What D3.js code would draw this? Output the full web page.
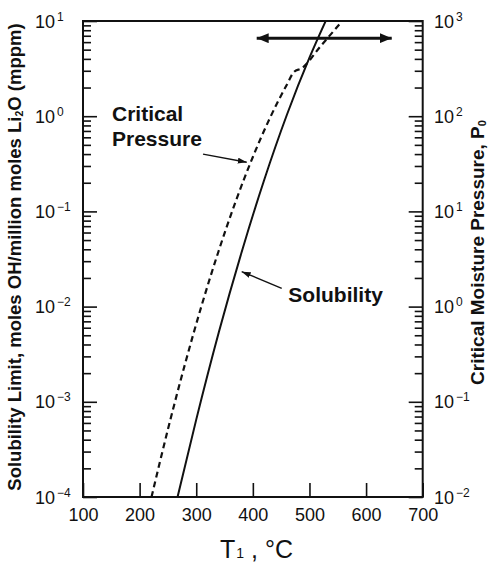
<!DOCTYPE html>
<html><head><meta charset="utf-8">
<script src="https://cdn.jsdelivr.net/npm/d3@7"></script>
<style>body{margin:0;background:#fff}svg{display:block}text{font-family:"Liberation Sans",Arial,Helvetica,sans-serif;fill:#111}</style>
</head><body><svg id="c" width="489" height="566"></svg>
<script>
// ---- data ----
const xTicks = [100, 200, 300, 400, 500, 600, 700];
const leftMajor = [1e-4, 1e-3, 1e-2, 1e-1, 1, 10];
const leftExp = ["−4", "−3", "−2", "−1", "0", "1"];
const rightMajor = [1e-2, 1e-1, 1, 10, 100, 1000];
const rightExp = ["−2", "−1", "0", "1", "2", "3"];
// Solubility limit (mppm) vs T1 (°C)
const solT = [267, 300, 340, 380, 420, 460, 500, 529];
const solV = [1e-4, 6.5e-4, 5.4e-3, 3.7e-2, 0.214, 1.03, 4.12, 10.1];
// Critical moisture pressure P0 vs T1 (°C)
const critT = [221, 250, 280, 310, 340, 370, 400, 430, 460, 473, 486, 520, 557];
const critV = [0.01, 0.0514, 0.247, 1.05, 3.91, 12.9, 37.3, 95.3, 214, 293, 318, 547, 984];

const svg = d3.select("#c");
const L = 83, R = 422.7, T = 21, B = 497;
const x = d3.scaleLinear().domain([100, 700]).range([L, R]);
const yL = d3.scaleLog().domain([1e-4, 10]).range([B, T]);
const yR = d3.scaleLog().domain([1e-2, 1e3]).range([B, T]);
const ink = "#111";

// defs
const defs = svg.append("defs");
defs.append("clipPath").attr("id", "clip").append("rect")
  .attr("x", L).attr("y", T).attr("width", R - L).attr("height", B - T);
defs.append("marker").attr("id", "big").attr("viewBox", "0 0 12 10")
  .attr("refX", 12).attr("refY", 5).attr("markerWidth", 12).attr("markerHeight", 10)
  .attr("markerUnits", "userSpaceOnUse").attr("orient", "auto-start-reverse")
  .append("path").attr("d", "M0,0L12,5L0,10Z").attr("fill", ink);
defs.append("marker").attr("id", "small").attr("viewBox", "0 0 9 6")
  .attr("refX", 9).attr("refY", 3).attr("markerWidth", 9).attr("markerHeight", 6)
  .attr("markerUnits", "userSpaceOnUse").attr("orient", "auto")
  .append("path").attr("d", "M0,0L9,3L0,6Z").attr("fill", ink);

// minor tick values
const minorL = [];
leftMajor.slice(0, -1).forEach(m => { for (let k = 2; k <= 9; k++) minorL.push(m * k); });
const minorR = [];
rightMajor.slice(0, -1).forEach(m => { for (let k = 2; k <= 9; k++) minorR.push(m * k); });

function styleAxis(g) {
  g.select(".domain").remove();
  g.selectAll(".tick line").attr("stroke", ink).attr("stroke-width", 1.6);
}
// bottom axis
const gx = svg.append("g").attr("transform", `translate(0,${B})`)
  .call(d3.axisBottom(x).tickValues(xTicks).tickSizeInner(-14).tickSizeOuter(0).tickPadding(11).tickFormat(d3.format("d")));
styleAxis(gx);
gx.selectAll(".tick text").attr("font-size", 18).attr("font-family", "Liberation Sans, Arial, sans-serif").attr("fill", ink);

// left axis ticks
const gl = svg.append("g").attr("transform", `translate(${L},0)`)
  .call(d3.axisLeft(yL).tickValues(leftMajor).tickSizeInner(-14).tickSizeOuter(0).tickFormat(""));
styleAxis(gl);
const glm = svg.append("g").attr("transform", `translate(${L},0)`)
  .call(d3.axisLeft(yL).tickValues(minorL).tickSizeInner(-8).tickSizeOuter(0).tickFormat(""));
styleAxis(glm);
// right axis ticks
const gr = svg.append("g").attr("transform", `translate(${R},0)`)
  .call(d3.axisRight(yR).tickValues(rightMajor).tickSizeInner(-14).tickSizeOuter(0).tickFormat(""));
styleAxis(gr);
const grm = svg.append("g").attr("transform", `translate(${R},0)`)
  .call(d3.axisRight(yR).tickValues(minorR).tickSizeInner(-8).tickSizeOuter(0).tickFormat(""));
styleAxis(grm);

// power-of-ten labels
function powLabels(vals, exps, scale, x0) {
  const t = svg.append("g").selectAll("text").data(vals).join("text")
    .attr("x", x0).attr("y", d => scale(d) + 6.5).attr("font-size", 18);
  t.append("tspan").text("10");
  t.append("tspan").attr("font-size", 12).attr("dx", 2).attr("dy", -7).text((d, i) => exps[i]);
}
powLabels(leftMajor, leftExp, yL, 35);
powLabels(rightMajor, rightExp, yR, 434);

// frame
svg.append("rect").attr("x", L).attr("y", T).attr("width", R - L).attr("height", B - T)
  .attr("fill", "none").attr("stroke", ink).attr("stroke-width", 2);

// double arrow
svg.append("line")
  .attr("x1", x(406.8)).attr("x2", x(645.3)).attr("y1", yL(6.6)).attr("y2", yL(6.6))
  .attr("stroke", ink).attr("stroke-width", 3)
  .attr("marker-start", "url(#big)").attr("marker-end", "url(#big)");

// curves
const plot = svg.append("g").attr("clip-path", "url(#clip)");
const solLine = d3.line().x(d => x(d[0])).y(d => yL(d[1])).curve(d3.curveMonotoneX);
const critLine = d3.line().x(d => x(d[0])).y(d => yR(d[1])).curve(d3.curveMonotoneX);
plot.append("path").datum(critT.map((t, i) => [t, critV[i]])).attr("d", critLine)
  .attr("fill", "none").attr("stroke", ink).attr("stroke-width", 2.2).attr("stroke-dasharray", "6,4");
plot.append("path").datum(solT.map((t, i) => [t, solV[i]])).attr("d", solLine)
  .attr("fill", "none").attr("stroke", ink).attr("stroke-width", 2);

// annotations
svg.append("line").attr("x1", x(312)).attr("y1", yL(0.40)).attr("x2", x(389.2)).attr("y2", yL(0.328))
  .attr("stroke", ink).attr("stroke-width", 1.4).attr("marker-end", "url(#small)");
svg.append("line").attr("x1", x(451)).attr("y1", yL(0.01556)).attr("x2", x(380.3)).attr("y2", yL(0.0233))
  .attr("stroke", ink).attr("stroke-width", 1.4).attr("marker-end", "url(#small)");
const ann = svg.append("g").attr("font-size", 21).attr("font-weight", "bold");
ann.append("text").attr("x", x(151.2)).attr("y", yL(0.89)).text("Critical");
ann.append("text").attr("x", x(151.2)).attr("y", yL(0.486)).text("Pressure");
ann.append("text").attr("x", x(462.7)).attr("y", yL(0.01117)).text("Solubility");

// axis titles
const tl = svg.append("text").attr("transform", `translate(20.5,${(T + B) / 2 - 2}) rotate(-90)`)
  .attr("text-anchor", "middle").attr("font-size", 18.5).attr("font-weight", "bold");
tl.append("tspan").text("Solubility Limit, moles OH/million moles Li");
tl.append("tspan").attr("font-size", 10.5).attr("dy", 2).text("2");
tl.append("tspan").attr("dy", -2).text("O (mppm)");

const tr = svg.append("text").attr("transform", `translate(484,${(T + B) / 2 - 6.5}) rotate(-90)`)
  .attr("text-anchor", "middle").attr("font-size", 19).attr("font-weight", "bold");
tr.append("tspan").text("Critical Moisture Pressure, P");
tr.append("tspan").attr("font-size", 11).attr("dy", 2).text("0");

const tx = svg.append("text").attr("x", 220).attr("y", 558).attr("font-size", 25);
tx.append("tspan").text("T");
tx.append("tspan").attr("font-size", 14).attr("dx", 1).text("1");
tx.append("tspan").text(" , °C");
</script></body></html>
